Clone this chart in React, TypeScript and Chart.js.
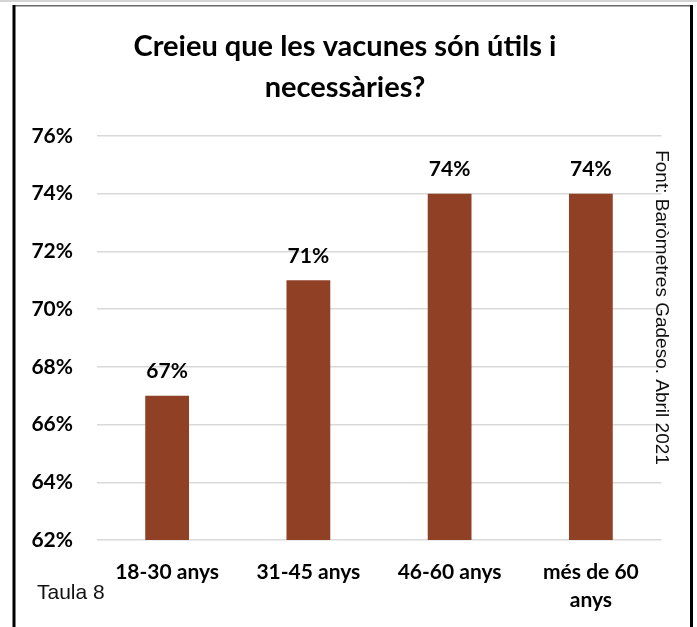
import React, { useEffect, useRef } from 'react';
import Chart from 'chart.js/auto';

const categories: (string | string[])[] = ['18-30 anys', '31-45 anys', '46-60 anys', ['més de 60', 'anys']];
const values = [67, 71, 74, 74];
const valueLabels = ['67%', '71%', '74%', '74%'];
const titleLines = ['Creieu que les vacunes són útils i', 'necessàries?'];
const sourceNote = 'Font: Baròmetres Gadeso. Abril 2021';
const tableNote = 'Taula 8';
const yMin = 62;
const yMax = 76;
const yStep = 2;

const BOLD = "'Lato', 'Open Sans', sans-serif";
const REG = "'Liberation Sans', Arial, sans-serif";

const decor = {
  id: 'decor',
  beforeDraw(chart: any) {
    const ctx = chart.ctx;
    const W = chart.width;
    const H = chart.height;
    ctx.save();
    ctx.fillStyle = '#ffffff';
    ctx.fillRect(0, 0, W, H);
    ctx.fillStyle = '#d4d4d4';
    ctx.fillRect(0, 0, W, 2);
    ctx.fillStyle = '#6a6a6a';
    ctx.fillRect(13, 5, 679, 1.5);
    ctx.fillStyle = '#000000';
    ctx.fillRect(12.5, 5, 3, H);
    ctx.fillRect(690, 5, 3, H);
    ctx.restore();
  },
  afterDatasetsDraw(chart: any) {
    const ctx = chart.ctx;
    const meta = chart.getDatasetMeta(0);
    ctx.save();
    ctx.font = `bold 21px ${BOLD}`;
    ctx.fillStyle = '#000';
    ctx.textAlign = 'center';
    ctx.textBaseline = 'middle';
    meta.data.forEach((el: any, i: number) => {
      ctx.fillText(valueLabels[i], el.x, el.y - 24);
    });
    ctx.restore();
  },
  afterDraw(chart: any) {
    const ctx = chart.ctx;
    ctx.save();
    ctx.fillStyle = '#000';
    ctx.textAlign = 'center';
    ctx.textBaseline = 'middle';
    ctx.font = `bold 29px ${BOLD}`;
    titleLines.forEach((t, i) => ctx.fillText(t, 345, 47 + i * 41));
    ctx.font = `19px ${REG}`;
    ctx.fillStyle = '#111';
    ctx.translate(661, 307.5);
    ctx.rotate(Math.PI / 2);
    ctx.fillText(sourceNote, 0, 0);
    ctx.restore();
    ctx.save();
    ctx.font = `21px ${REG}`;
    ctx.fillStyle = '#111';
    ctx.textAlign = 'left';
    ctx.textBaseline = 'alphabetic';
    ctx.fillText(tableNote, 37, 599);
    ctx.restore();
  },
};

export default function App() {
  const ref = useRef<HTMLCanvasElement | null>(null);
  useEffect(() => {
    if (!ref.current) return;
    const chart = new Chart(ref.current, {
      type: 'bar',
      data: {
        labels: categories as any,
        datasets: [
          {
            data: values,
            backgroundColor: '#904024',
            barPercentage: 0.31,
            categoryPercentage: 1,
          },
        ],
      },
      options: {
        responsive: true,
        maintainAspectRatio: false,
        animation: false,
        layout: { padding: { top: 136, right: 35.5, left: 0, bottom: 0 } },
        plugins: {
          legend: { display: false },
          tooltip: { enabled: false },
          title: { display: false },
        },
        scales: {
          x: {
            grid: { display: false, drawTicks: false },
            border: { display: false },
            ticks: {
              font: { family: BOLD, weight: 'bold', size: 21, lineHeight: 1.35 },
              color: '#000',
              padding: 18,
              maxRotation: 0,
              autoSkip: false,
            },
            afterFit(s: any) {
              s.height = 87;
            },
          },
          y: {
            min: yMin,
            max: yMax,
            ticks: {
              stepSize: yStep,
              callback: (v: any) => v + '%',
              font: { family: BOLD, weight: 'bold', size: 21 },
              color: '#000',
              padding: 23.5,
            },
            grid: { color: '#d9d9d9', lineWidth: 1.5, drawTicks: false },
            border: { display: false },
            afterFit(s: any) {
              s.width = 96.5;
            },
          },
        },
      },
      plugins: [decor],
    });
    return () => chart.destroy();
  }, []);
  return (
    <div style={{ position: 'fixed', left: 0, top: 0, width: 697, height: 627 }}>
      <canvas ref={ref} />
    </div>
  );
}
